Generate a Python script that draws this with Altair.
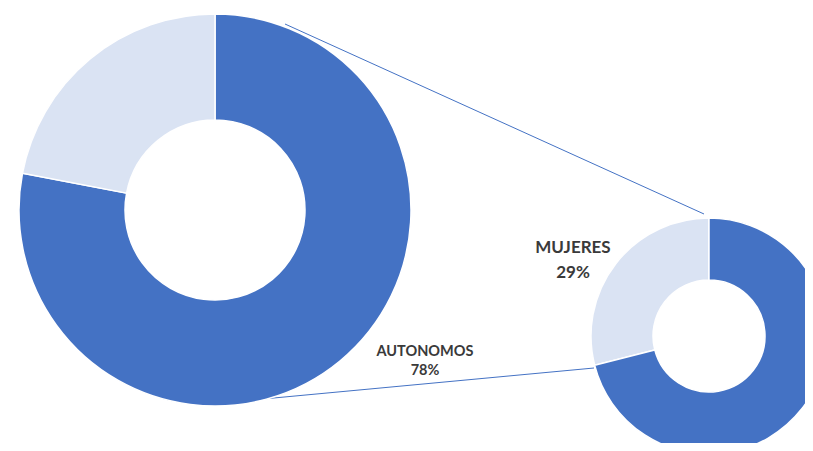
import altair as alt
import pandas as pd

# data
big_cats = ["AUTONOMOS", "OTROS"]
big_vals = [78, 22]
small_cats = ["MUJERES", "HOMBRES"]
small_vals = [29, 71]
small_order = [2, 1]  # light slice drawn after dark (counter-clockwise side)

DARK = "#4472C4"
LIGHT = "#DAE3F3"

big_df = pd.DataFrame({"cat": big_cats, "val": big_vals, "ord": [1, 2]})
small_df = pd.DataFrame({"cat": small_cats, "val": small_vals, "ord": small_order})

color_big = alt.Color("cat:N", scale=alt.Scale(domain=big_cats, range=[DARK, LIGHT]), legend=None)
color_small = alt.Color("cat:N", scale=alt.Scale(domain=["HOMBRES", "MUJERES"], range=[DARK, LIGHT]), legend=None)

big = alt.Chart(big_df).mark_arc(
    x=207, y=202, outerRadius=196, innerRadius=90, stroke="white", strokeWidth=1.5
).encode(
    theta=alt.Theta("val:Q", stack=True),
    color=color_big,
    order=alt.Order("ord:Q"),
)

small = alt.Chart(small_df).mark_arc(
    x=701, y=328, outerRadius=118, innerRadius=56, stroke="white", strokeWidth=1.5
).encode(
    theta=alt.Theta("val:Q", stack=True),
    color=color_small,
    order=alt.Order("ord:Q"),
)

line1 = alt.Chart(pd.DataFrame({"k": [0]})).mark_rule(color=DARK, strokeWidth=1).encode(
    x=alt.value(277), y=alt.value(16), x2=alt.value(696), y2=alt.value(206)
)
line2 = alt.Chart(pd.DataFrame({"k": [0]})).mark_rule(color=DARK, strokeWidth=1).encode(
    x=alt.value(255), y=alt.value(391), x2=alt.value(586), y2=alt.value(360)
)

lab_df = pd.DataFrame({
    "name": [big_cats[0], small_cats[0]],
    "pct": [f"{big_vals[0]}%", f"{small_vals[0]}%"],
})

def label(i, x, y1, y2, size):
    d = lab_df.iloc[[i]]
    t1 = alt.Chart(d).mark_text(font="Lato", fontWeight="bold", fontSize=size, color="#3a3a3a",
                                align="center", baseline="middle").encode(
        text="name:N", x=alt.value(x), y=alt.value(y1))
    t2 = alt.Chart(d).mark_text(font="Lato", fontWeight="bold", fontSize=size, color="#3a3a3a",
                                align="center", baseline="middle").encode(
        text="pct:N", x=alt.value(x), y=alt.value(y2))
    return t1 + t2

lab1 = label(0, 417, 344, 363, 14.5)
lab2 = label(1, 565, 240, 265, 17)

chart = alt.layer(line1, line2, big, small, lab1, lab2).resolve_scale(
    theta="independent", color="independent"
).properties(
    width=797, height=435, padding=0, autosize=alt.AutoSizeParams(type="none")
).configure_view(stroke=None)

chart.save("out.html", embed_options={"renderer": "svg", "actions": False})
